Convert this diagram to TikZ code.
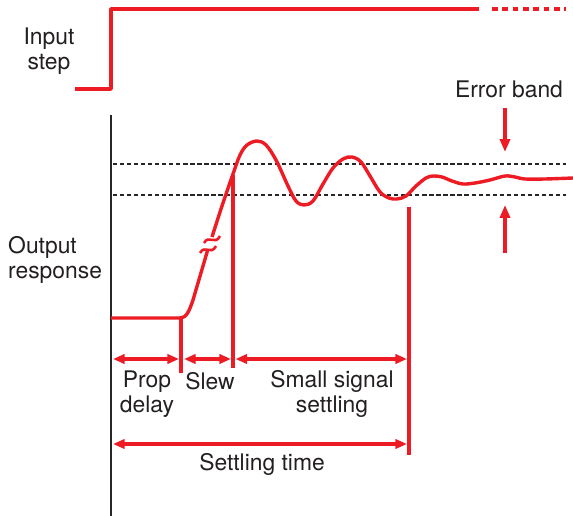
\documentclass[tikz,border=0pt]{standalone}
\usepackage{fontspec}
\setmainfont{TeX Gyre Heros}
\usetikzlibrary{arrows.meta, positioning}
\usepackage{xcolor}
\definecolor{sigred}{RGB}{237,28,36}
\definecolor{txtgray}{RGB}{35,31,32}

\begin{document}
\begin{tikzpicture}[
    x=0.03cm, y=-0.03cm,
    line join=round,
    sig/.style={draw=sigred, line width=2.9pt},
    band/.style={draw=black!85, line width=2pt, dash pattern=on 3.6pt off 2.4pt},
    marker/.style={draw=sigred, line width=2.9pt},
    dim/.style={draw=sigred, line width=2.9pt, {Triangle[length=10pt,width=8pt]}-{Triangle[length=10pt,width=8pt]}},
    pointer/.style={draw=sigred, line width=2.9pt, -{Triangle[length=11pt,width=8.5pt]}},
    lbl/.style={text=txtgray, font=\fontsize{19.5}{21.5}\selectfont, inner sep=0pt, align=center}
]
    \useasboundingbox (0,0) rectangle (573,516);

    % Labels
    \node[lbl] (inlbl) at (49,51) {Input\\step};
    \node[lbl, align=left, anchor=west] (outlbl) at (8,260) {Output\\response};
    \node[lbl, anchor=base] (errlbl) at (509,98) {Error band};
    \node[lbl] (proplbl) at (147,394) {Prop\\delay};
    \node[lbl, anchor=base] (slewlbl) at (210,389) {Slew};
    \node[lbl] (smalllbl) at (332,394) {Small signal\\settling};
    \node[lbl, anchor=base] (settlbl) at (262,470) {Settling time};

    % Input step
    \draw[sig] (75,89) -- (111,89) -- (111,9) -- (479,9);
    \draw[sig, dash pattern=on 5pt off 3.8pt] (492,9) -- (566,9);

    % Axis and error band
    \draw[black!85, line width=2.2pt] (111,115) -- (111,516);
    \draw[band] (113,164) -- (566,164);
    \draw[band] (113,195) -- (566,195);

    % Output response
    \draw[sig] (111,318) -- (180,318) .. controls (186,318) and (189,312) .. (193,300) -- (208,249);
    \draw[sig] plot[smooth, tension=0.55] coordinates {(212,237) (222,206) (233,174) (240,155) (247,145) (257,141) (266,145) (276,160) (288,186) (296,201) (304,205) (313,201) (323,184) (333,168) (343,159) (352,157) (361,162) (370,176) (380,192) (389,198) (397,199) (406,196) (416,186) (426,178) (433,176) (442,177) (452,181) (463,184) (475,183) (490,180) (505,176) (515,177) (525,179) (545,179) (573,178)};
    \draw[sig, line width=2.2pt] (204,243) .. controls (209,234) and (215,246) .. (220,236);
    \draw[sig, line width=2.2pt] (200,253) .. controls (205,244) and (211,256) .. (216,246);

    % Markers
    \coordinate (pdtop) at (181,318);
    \coordinate (pdbot) at (181,373);
    \coordinate (swtop) at (233,175);
    \coordinate (swbot) at (233,368);
    \coordinate (sstop) at (409,207);
    \coordinate (ssbot) at (409,455);
    \draw[marker] (pdtop) -- (pdbot);
    \draw[marker] (swtop) -- (swbot);
    \draw[marker] (sstop) -- (ssbot);

    % Intervals
    \coordinate (pdA) at (113,359);
    \coordinate (pdB) at (179,359);
    \coordinate (swA) at (184,359);
    \coordinate (swB) at (231,359);
    \coordinate (ssA) at (235.5,359);
    \coordinate (ssB) at (407,359);
    \coordinate (stA) at (113,444);
    \coordinate (stB) at (407,444);
    \draw[dim] (pdA) -- (pdB);
    \draw[dim] (swA) -- (swB);
    \draw[dim] (ssA) -- (ssB);
    \draw[dim] (stA) -- (stB);

    % Error band pointers
    \coordinate (ebtop) at (505,108);
    \coordinate (ebhi) at (505,152);
    \coordinate (eblo) at (505,205);
    \coordinate (ebbot) at (505,253);
    \draw[pointer] (ebtop) -- (ebhi);
    \draw[pointer] (ebbot) -- (eblo);
\end{tikzpicture}
\end{document}
